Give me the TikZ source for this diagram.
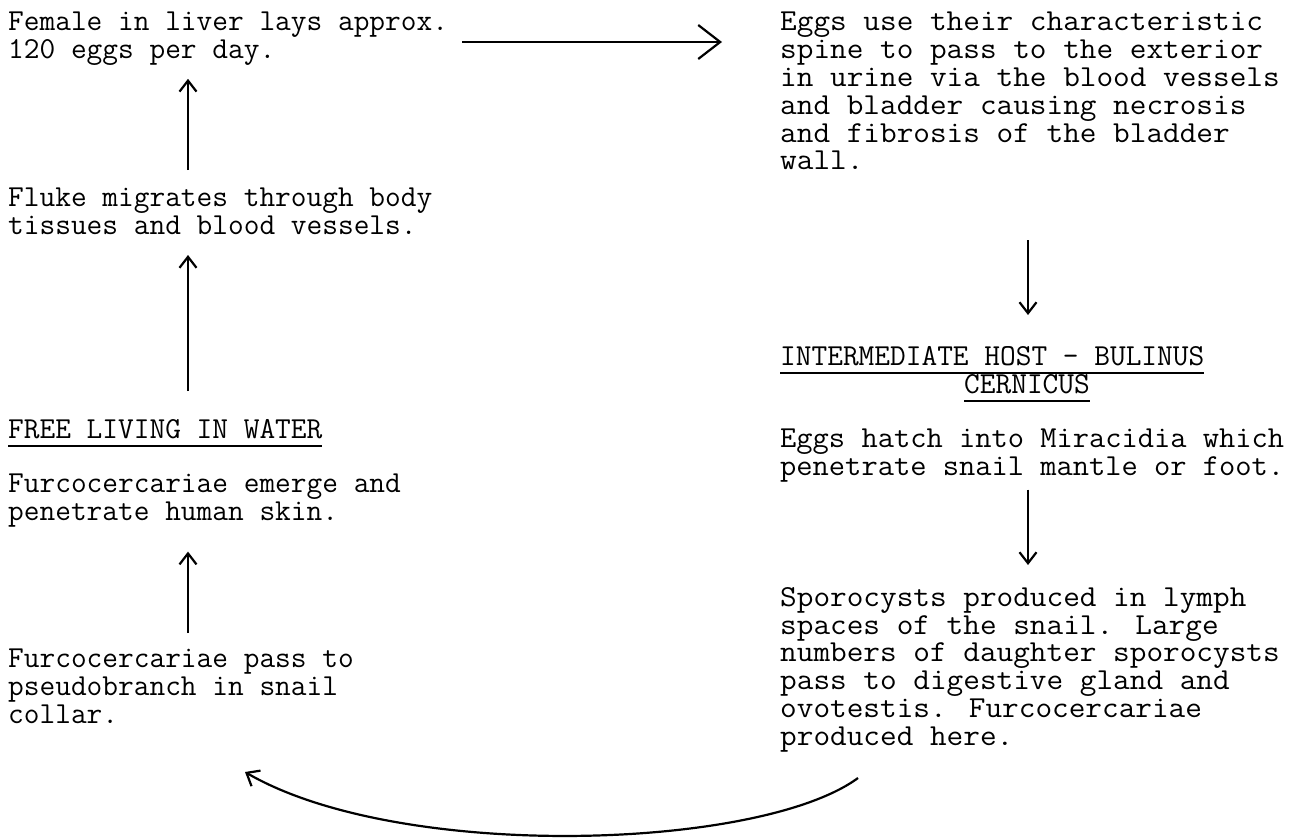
\documentclass[tikz,border=0pt]{standalone}
\usepackage{tikz}
\usetikzlibrary{arrows.meta}
\newcommand\typed{\fontsize{30.5}{27.8}\selectfont\ttfamily}
\newcommand\ulined[1]{\setbox0=\hbox{#1}\rlap{\smash{\rule[-9pt]{\wd0}{2.4pt}}}\box0}
\tikzset{
  stage/.style={anchor=north west,align=left,inner sep=0pt,font=\typed},
  widestage/.style={stage,xscale=#1,transform shape},
  flow/.style={-{Straight Barb[length=11pt,width=17pt]},line width=2.2pt},
}

\begin{document}
\begin{tikzpicture}[x=1pt,y=-1pt]
  \useasboundingbox (0,0) rectangle (1295,838);
  % left column
  \node[stage] (female) at (8,12) {Female in liver lays approx.\\120 eggs per day.};
  \node[stage] (fluke) at (8,188) {Fluke migrates through body\\tissues and blood vessels.};
  \node[stage] (free) at (8,419) {\ulined{FREE LIVING IN WATER}};
  \node[stage] (emerge) at (8,474) {Furcocercariae emerge and\\penetrate human skin.};
  \node[stage] (pass) at (8,649) {Furcocercariae pass to\\pseudobranch in snail\\collar.};
  % right column
  \node[widestage=1.06] (eggs) at (780,12) {Eggs use their characteristic\\spine to pass to the exterior\\in urine via the blood vessels\\and bladder causing necrosis\\and fibrosis of the bladder\\wall.};
  \node[stage] (host) at (780,346) {\ulined{INTERMEDIATE HOST - BULINUS}\\\hspace*{184pt}\ulined{CERNICUS}};
  \node[widestage=1.035] (hatch) at (780,429) {Eggs hatch into Miracidia which\\penetrate snail mantle or foot.};
  \node[widestage=1.06] (sporo) at (780,587) {Sporocysts produced in lymph\\spaces of the snail. Large\\numbers of daughter sporocysts\\pass to digestive gland and\\ovotestis. Furcocercariae\\produced here.};
  \coordinate (lx) at (188,0);
  \coordinate (rx) at (1028,0);
  \coordinate (ty) at (0,42);
  \coordinate (ctail) at (858,778);
  \coordinate (chead) at (245,772);
  % arrows
  \draw[flow,shorten <=14pt,shorten >=58pt,-{Straight Barb[length=22pt,width=34pt]}] (female.east |- ty) -- (eggs.west |- ty);
  \draw[flow,shorten <=18pt,shorten >=13pt] (lx |- fluke.north) -- (lx |- female.south);
  \draw[flow,shorten <=28pt,shorten >=20pt] (lx |- free.north) -- (lx |- fluke.south);
  \draw[flow,shorten <=16pt,shorten >=24pt] (lx |- pass.north) -- (lx |- emerge.south);
  \draw[flow,shorten <=70pt,shorten >=31pt] (rx |- eggs.south) -- (rx |- host.north);
  \draw[flow,shorten <=7pt,shorten >=22pt] (rx |- hatch.south) -- (rx |- sporo.north);
  \draw[flow,-{Straight Barb[length=11pt,width=18pt]}] (ctail) .. controls (760,850) and (400,862) .. (chead);
\end{tikzpicture}
\end{document}
